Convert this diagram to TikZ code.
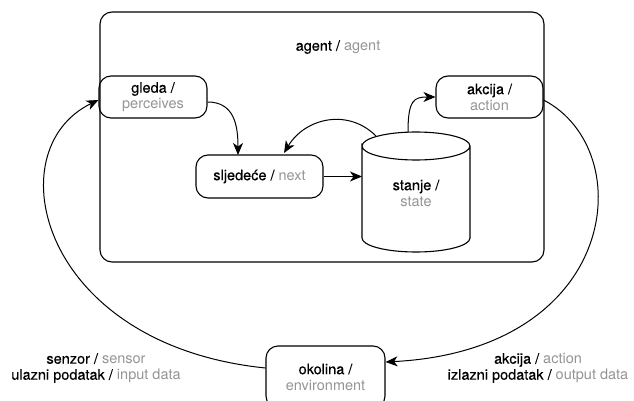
\documentclass[tikz,border=0pt]{standalone}
\usepackage{fontspec}
\setmainfont{TeX Gyre Heros}
\newfontfamily\medfont[FakeBold=0.35]{TeX Gyre Heros}
\usetikzlibrary{arrows.meta}
\definecolor{lightgraytext}{HTML}{949494}
\newcommand{\gr}[1]{\textcolor{lightgraytext}{#1}}
\newcommand{\bk}[1]{{\medfont #1}}
\begin{document}
\begin{tikzpicture}[x=1pt,y=-1pt,
  font=\fontsize{14.5}{16}\selectfont,
  box/.style={draw,line width=1.1pt,rounded corners=12pt,align=center,inner sep=0pt},
  conn/.style={line width=1pt,-{Stealth[length=12pt,width=10pt,inset=3.5pt]}},
  lbl/.style={align=center,inner sep=0pt}]
\useasboundingbox (0,0) rectangle (634,401);
\clip (0,0) rectangle (634,401);
% agent frame
\node[box,minimum width=444pt,minimum height=250pt] (agent) at (322,137) {};
\node[lbl] (agentlbl) at (338,47) {\bk{agent /} \gr{agent}};
% nodes
\node[box,minimum width=108pt,minimum height=42pt] (gleda) at (153,97) {\bk{gleda /}\\\gr{perceives}};
\node[box,minimum width=107pt,minimum height=42pt] (akcija) at (489.5,97) {\bk{akcija /}\\\gr{action}};
\node[box,minimum width=127pt,minimum height=43pt] (sljed) at (259.5,176.5) {\bk{sljedeće /} \gr{next}};
\node[box,minimum width=119pt,minimum height=62pt] (okolina) at (325.5,377) {\bk{okolina /}\\\gr{environment}};
% cylinder
\node[lbl,minimum width=108pt,minimum height=120pt] (stanje) at (416,193) {\bk{stanje /}\\\gr{state}};
\draw[line width=1.1pt] (362,146) arc[start angle=180,end angle=360,x radius=54,y radius=14]
  arc[start angle=0,end angle=180,x radius=54,y radius=14]
  -- (362,238) arc[start angle=180,end angle=0,x radius=54,y radius=14] -- (470,146);
\coordinate (stanjeW) at (362,176.5);
\coordinate (stanjeTL) at (376,136);
\coordinate (stanjeT) at (408,132);
% side labels
\node[lbl] (senzor) at (96,368) {\bk{senzor /} \gr{sensor}\\\bk{ulazni podatak /} \gr{input data}};
\node[lbl] (izlaz) at (538,368) {\bk{akcija /} \gr{action}\\\bk{izlazni podatak /} \gr{output data}};
% connectors
\draw[conn] (gleda.east |- 0,102) .. controls (234,102) and (238,125) .. (238,155);
\draw[conn] (stanjeTL) .. controls (348,108) and (305,118) .. (284,153);
\draw[conn] (sljed.east) -- (stanjeW);
\draw[conn] (stanjeT) .. controls (408,100) and (414,97) .. (akcija.west);
\draw[conn] (akcija.east |- 0,100) .. controls (640,150) and (620,350) .. (okolina.east |- 0,362);
\draw[conn] (okolina.west |- 0,368) .. controls (40,345) and (-5,150) .. (gleda.west |- 0,100);
\end{tikzpicture}
\end{document}
